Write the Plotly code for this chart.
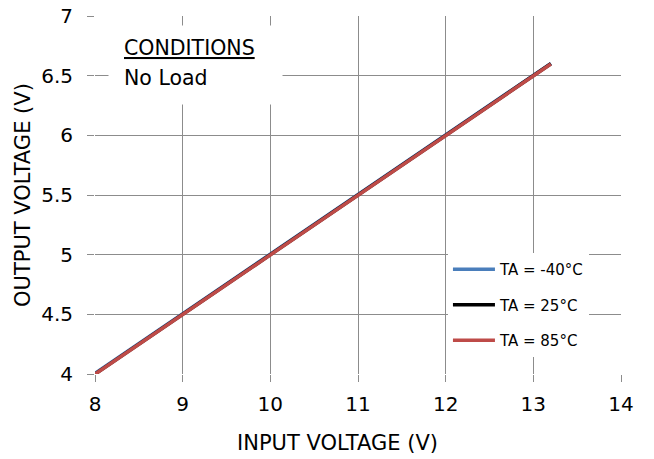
import plotly.graph_objects as go

# input voltage sweep (V)
vin = [8.0, 8.5, 9.0, 9.5, 10.0, 10.5, 11.0, 11.5, 12.0, 12.5, 13.0, 13.2]

# output voltage (V) per ambient temperature
vout_m40 = [4.006, 4.256, 4.506, 4.756, 5.006, 5.256, 5.505, 5.755, 6.004, 6.254, 6.504, 6.603]
vout_25 = [4.0, 4.25, 4.5, 4.75, 5.0, 5.25, 5.5, 5.75, 6.0, 6.25, 6.5, 6.6]
vout_85 = [3.998, 4.248, 4.498, 4.748, 4.998, 5.248, 5.498, 5.748, 5.998, 6.248, 6.498, 6.598]

names = ['TA = -40°C', 'TA = 25°C', 'TA = 85°C']
colors = ['#4a7ebb', '#000000', '#be4b48']

FONT = 'DejaVu Sans'

fig = go.Figure()
for i, (ys, name, col) in enumerate(zip([vout_m40, vout_25, vout_85], names, colors)):
    fig.add_trace(go.Scatter(x=vin, y=ys, mode='lines', name=name,
                             legendgroup=str(i),
                             line=dict(color=col, width=3.5)))

grid = '#8c8c8c'
fig.update_xaxes(range=[8, 14], dtick=1, showgrid=True, gridcolor=grid,
                 gridwidth=1, zeroline=False, ticks='outside', ticklen=7,
                 tickcolor=grid, showline=False, automargin=False,
                 ticklabelstandoff=5,
                 tickfont=dict(size=20, color='black'))
fig.update_yaxes(range=[4, 7], dtick=0.5, showgrid=True, gridcolor=grid,
                 gridwidth=1, zeroline=False, ticks='outside', ticklen=7,
                 tickcolor=grid, showline=False, automargin=False,
                 ticklabelstandoff=10,
                 tickfont=dict(size=20, color='black'))

# axis titles
fig.add_annotation(xref='paper', yref='paper', x=0.461, y=-0.1927,
                   xanchor='center', yanchor='middle', showarrow=False,
                   text='INPUT VOLTAGE (V)',
                   font=dict(family=FONT, size=21, color='black'))
fig.add_annotation(xref='paper', yref='paper', x=-0.137, y=0.5,
                   xanchor='center', yanchor='middle', showarrow=False,
                   textangle=-90, text='OUTPUT VOLTAGE (V)',
                   font=dict(family=FONT, size=21, color='black'))

# conditions box
fig.add_annotation(xref='paper', yref='paper', x=0.0247, y=0.975,
                   xanchor='left', yanchor='top', showarrow=False,
                   bgcolor='white', width=173, height=78, borderpad=0,
                   text=' ')
fig.add_annotation(xref='paper', yref='paper', x=0.051, y=0.910,
                   xanchor='left', yanchor='middle', showarrow=False,
                   text='<u>CONDITIONS</u>',
                   font=dict(family=FONT, size=20.5, color='black'))
fig.add_annotation(xref='paper', yref='paper', x=0.051, y=0.827,
                   xanchor='left', yanchor='middle', showarrow=False,
                   text='No Load',
                   font=dict(family=FONT, size=20.5, color='black'))

fig.update_layout(
    width=654, height=459,
    margin=dict(l=95, r=33, t=16, b=85),
    plot_bgcolor='white', paper_bgcolor='white',
    font=dict(family=FONT, color='black'),
    showlegend=True,
    legend=dict(x=0.671, y=0.338, xanchor='left', yanchor='top',
                bgcolor='white', tracegroupgap=13, traceorder='grouped',
                itemwidth=42,
                font=dict(family=FONT, size=15, color='black')),
)

fig.write_html('out.html', config={'displayModeBar': False},
               post_script="document.body.style.margin='0';")
